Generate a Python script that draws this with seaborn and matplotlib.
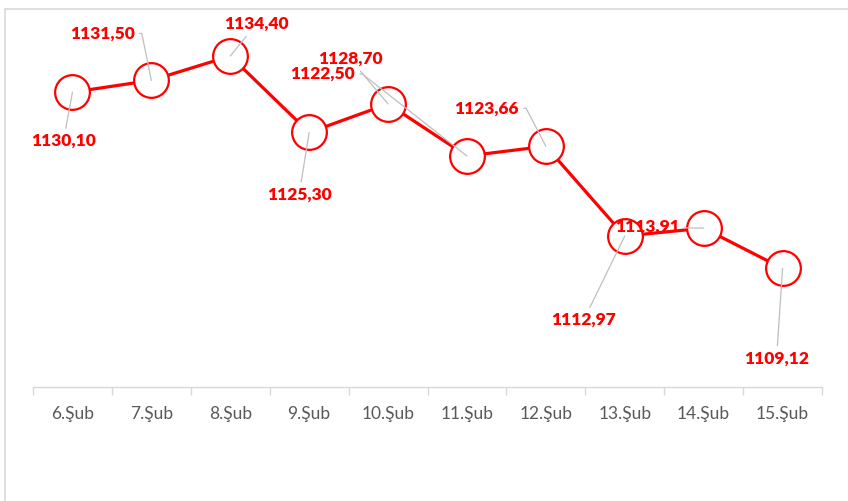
import seaborn as sns
import matplotlib.pyplot as plt
from matplotlib.lines import Line2D
from matplotlib.ticker import FixedLocator

# data
days = ["6.Şub", "7.Şub", "8.Şub", "9.Şub", "10.Şub",
        "11.Şub", "12.Şub", "13.Şub", "14.Şub", "15.Şub"]
values = [1130.10, 1131.50, 1134.40, 1125.30, 1128.70,
          1122.50, 1123.66, 1112.97, 1113.91, 1109.12]
labels = ["1130,10", "1131,50", "1134,40", "1125,30", "1128,70",
          "1122,50", "1123,66", "1112,97", "1113,91", "1109,12"]

# label offsets (pixels) from each point
label_offsets = [(-9, -49), (-49, 47), (26, 32), (-10, -62), (-38, 45),
                 (-144, 82), (-59, 38), (-41, -84), (-56, 1), (-6, -90)]
stub_labels = {1, 5, 6}

sns.set_theme(style="white")
plt.rcParams["font.family"] = ["Lato", "DejaVu Sans"]

fig = plt.figure(figsize=(8.48, 5.01), dpi=100)
ax = fig.add_axes([33 / 848, (501 - 387) / 501, (822 - 33) / 848, (387 - 9) / 501])

sns.lineplot(x=days, y=values, ax=ax, sort=False, color="#ff0000", linewidth=2.3,
             marker="o", markersize=25, markerfacecolor="white",
             markeredgecolor="#ff0000", markeredgewidth=1.6)

for i, (v, lab, off) in enumerate(zip(values, labels, label_offsets)):
    if i in stub_labels:
        conn = "arc,angleA=0,armA=7,angleB=90,armB=0,rad=0"
        rel = (1.0, 0.5)
    else:
        conn = "arc3"
        rel = (0.5, 0.5)
    ax.annotate(lab, xy=(i, v), xytext=off, textcoords="offset pixels",
                ha="center", va="center", color="#ff0000", fontsize=12.5,
                fontweight="heavy",
                arrowprops=dict(arrowstyle="-", color="#bfbfbf", lw=0.9,
                                shrinkA=1, shrinkB=0, relpos=rel,
                                connectionstyle=conn))

ax.set_xlim(-0.5, 9.5)
ax.set_ylim(1095, 1140)
ax.set_xlabel("")
ax.set_ylabel("")
ax.set_yticks([])
for s in ["top", "right", "left"]:
    ax.spines[s].set_visible(False)
ax.spines["bottom"].set_color("#d9d9d9")
ax.spines["bottom"].set_linewidth(1)

ax.xaxis.set_minor_locator(FixedLocator([i - 0.5 for i in range(len(days) + 1)]))
ax.tick_params(axis="x", which="minor", length=6, width=1, color="#d9d9d9",
               direction="out", bottom=True)
ax.tick_params(axis="x", which="major", length=0, pad=14, labelsize=12.5,
               labelcolor="#595959")

# outer frame (left and top edge visible)
fig.add_artist(Line2D([5 / 848, 5 / 848], [0, 1 - 9 / 501],
                      transform=fig.transFigure, color="#d9d9d9", lw=1.2))
fig.add_artist(Line2D([5 / 848, 1], [1 - 9 / 501, 1 - 9 / 501],
                      transform=fig.transFigure, color="#d9d9d9", lw=1.2))

fig.savefig("out.png", dpi=100)
